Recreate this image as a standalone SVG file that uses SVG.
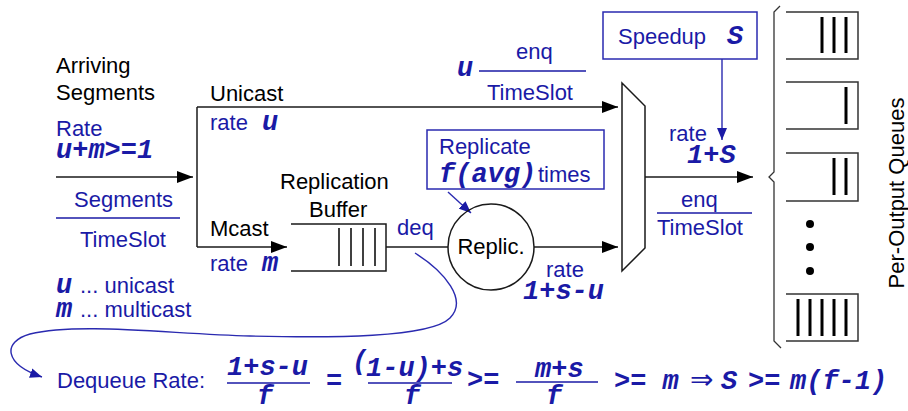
<svg xmlns="http://www.w3.org/2000/svg" width="908" height="411" viewBox="0 0 908 411">
  <style>
    .sans { font-family: "Liberation Sans", Arial, sans-serif; font-size: 22px; }
    .blk { fill: #000; }
    .blu { fill: #1a1aa6; }
    .mono { font-family: "Liberation Mono", "Courier New", monospace; font-size: 27px; font-weight: bold; font-style: italic; fill: #1a1aa6; }
    .ln { stroke: #1a1a1a; stroke-width: 1.5; fill: none; }
    .bln { stroke: #2a2ab0; stroke-width: 1.4; fill: none; }
    .box { stroke: #2a2ab0; stroke-width: 1.5; fill: #fff; }
    .q { stroke: #333; stroke-width: 1.5; fill: none; }
    .bar { stroke: #000; stroke-width: 3; }
    .frac { stroke: #1a1aa6; stroke-width: 1.3; }
  </style>
  <defs>
    <marker id="ah" markerUnits="userSpaceOnUse" markerWidth="16" markerHeight="12" refX="16" refY="6" orient="auto">
      <path d="M0,0 L16,6 L0,12 Z" fill="#000"/>
    </marker>
    <marker id="bh" markerUnits="userSpaceOnUse" markerWidth="12" markerHeight="10" refX="12" refY="5" orient="auto">
      <path d="M0,0 L12,5 L0,10 Z" fill="#1a1aa6"/>
    </marker>
  </defs>

  <rect width="908" height="411" fill="#fff"/>

  <!-- connectors -->
  <g id="connectors">
    <line class="ln" x1="56" y1="177" x2="193" y2="177" marker-end="url(#ah)"/>
    <path class="ln" d="M197,107 V247"/>
    <line class="ln" x1="197" y1="107" x2="618" y2="107" marker-end="url(#ah)"/>
    <line class="ln" x1="197" y1="247" x2="287" y2="247" marker-end="url(#ah)"/>
    <line class="ln" x1="386" y1="247" x2="448" y2="247"/>
    <line class="ln" x1="534" y1="247" x2="618" y2="247" marker-end="url(#ah)"/>
    <line class="ln" x1="645" y1="177" x2="753" y2="177" marker-end="url(#ah)"/>
    <line class="bln" x1="722" y1="59" x2="722" y2="140" marker-end="url(#bh)"/>
    <line class="bln" x1="448" y1="192" x2="471" y2="213" marker-end="url(#bh)"/>
    <path class="bln" d="M415,253 C445,272 468,300 450,318 C430,338 330,338 250,336 C170,334 80,322 30,334 C2,342 4,364 42,377" marker-end="url(#bh)"/>
  </g>

  <!-- input labels -->
  <g id="arrivals">
    <text class="sans blk" x="56" y="73">Arriving</text>
    <text class="sans blk" x="56" y="100">Segments</text>
    <text class="sans blu" x="56" y="136">Rate</text>
    <text class="mono" x="56" y="158">u+m&gt;=1</text>
    <text class="sans blu" x="74" y="207">Segments</text>
    <line class="frac" x1="56" y1="218" x2="180" y2="218"/>
    <text class="sans blu" x="80" y="247">TimeSlot</text>
    <text class="mono" x="56" y="293">u</text>
    <text class="sans blu" x="80" y="293">... unicast</text>
    <text class="mono" x="56" y="317">m</text>
    <text class="sans blu" x="80" y="317">... multicast</text>
  </g>

  <g id="unicast">
    <text class="sans blk" x="210" y="101">Unicast</text>
    <text class="sans blu" x="210" y="130">rate</text>
    <text class="mono" x="262" y="130">u</text>
    <text class="mono" x="457" y="76">u</text>
    <text class="sans blu" x="516" y="59">enq</text>
    <line class="frac" x1="479" y1="71" x2="586" y2="71"/>
    <text class="sans blu" x="487" y="100">TimeSlot</text>
  </g>

  <g id="mcast">
    <text class="sans blk" x="210" y="236">Mcast</text>
    <text class="sans blu" x="210" y="271">rate</text>
    <text class="mono" x="262" y="271">m</text>
  </g>

  <!-- replication buffer -->
  <g id="buffer">
    <text class="sans blk" x="280" y="189">Replication</text>
    <text class="sans blk" x="309" y="217">Buffer</text>
    <path class="ln" d="M291,224 H386 V271 H291"/>
    <line x1="339" y1="228" x2="339" y2="266" stroke="#000" stroke-width="1.5"/>
    <line x1="351" y1="228" x2="351" y2="266" stroke="#000" stroke-width="1.5"/>
    <line x1="363" y1="228" x2="363" y2="266" stroke="#000" stroke-width="1.5"/>
    <line x1="375" y1="228" x2="375" y2="266" stroke="#000" stroke-width="1.5"/>
    <text class="sans blu" x="397" y="235">deq</text>
  </g>

  <g id="replicate-note">
    <rect class="box" x="427" y="130" width="177" height="59"/>
    <text class="sans blu" x="439" y="154">Replicate</text>
    <text class="mono" x="439" y="182">f(avg)</text>
    <text class="sans blu" x="538" y="182">times</text>
  </g>

  <g id="replicator">
    <circle class="ln" cx="491" cy="247" r="43" fill="#fff"/>
    <text class="sans blk" x="491" y="254" text-anchor="middle">Replic.</text>
    <text class="sans blu" x="546" y="277">rate</text>
    <text class="mono" x="523" y="299">1+s-u</text>
  </g>

  <g id="mux">
    <polygon class="ln" points="622,83 645,106 645,248 622,271" fill="#fff"/>
    <text class="sans blu" x="669" y="141">rate</text>
    <text class="mono" x="687" y="163">1+S</text>
    <text class="sans blu" x="681" y="207">enq</text>
    <line class="frac" x1="657" y1="213" x2="752" y2="213"/>
    <text class="sans blu" x="657" y="235">TimeSlot</text>
  </g>

  <g id="speedup">
    <rect class="box" x="603" y="12" width="154" height="47"/>
    <text class="sans blu" x="618" y="44">Speedup</text>
    <text class="mono" x="727" y="44">S</text>
  </g>

  <!-- per-output queues -->
  <g id="queues">
    <path d="M780,6 L774,12 V172 L769,177 L774,182 V341 L781,348" stroke="#333" stroke-width="1.3" fill="none"/>
    <path class="q" d="M786,12 H858 V59 H786"/>
    <line class="bar" x1="822" y1="17" x2="822" y2="53"/>
    <line class="bar" x1="834" y1="17" x2="834" y2="53"/>
    <line class="bar" x1="846" y1="17" x2="846" y2="53"/>
    <path class="q" d="M786,82 H858 V129 H786"/>
    <line class="bar" x1="846" y1="87" x2="846" y2="124"/>
    <path class="q" d="M786,153 H858 V201 H786"/>
    <line class="bar" x1="834" y1="158" x2="834" y2="195"/>
    <line class="bar" x1="846" y1="158" x2="846" y2="195"/>
    <circle cx="810" cy="224" r="4" fill="#000"/>
    <circle cx="810" cy="247" r="4" fill="#000"/>
    <circle cx="810" cy="271" r="4" fill="#000"/>
    <path class="q" d="M786,294 H858 V341 H786"/>
    <line class="bar" x1="798" y1="299" x2="798" y2="336"/>
    <line class="bar" x1="810" y1="299" x2="810" y2="336"/>
    <line class="bar" x1="822" y1="299" x2="822" y2="336"/>
    <line class="bar" x1="834" y1="299" x2="834" y2="336"/>
    <line class="bar" x1="846" y1="299" x2="846" y2="336"/>
    <text class="sans blk" x="0" y="0" text-anchor="middle" transform="translate(904,193) rotate(-90)">Per-Output Queues</text>
  </g>

  <!-- dequeue rate relation -->
  <g id="formula">
    <text class="sans blu" x="57" y="388">Dequeue Rate:</text>
    <text class="mono" x="227" y="375">1+s-u</text>
    <line class="frac" x1="227" y1="383" x2="310" y2="383"/>
    <text class="mono" x="265" y="404" text-anchor="middle">f</text>
    <text class="mono" x="326" y="389">=</text>
    <text class="mono" x="352" y="369">(</text>
    <text class="mono" x="366" y="376">1-u)+s</text>
    <line class="frac" x1="368" y1="383" x2="452" y2="383"/>
    <text class="mono" x="412" y="404" text-anchor="middle">f</text>
    <text class="mono" x="467" y="388">&gt;=</text>
    <text class="mono" x="535" y="377">m+s</text>
    <line class="frac" x1="516" y1="382" x2="598" y2="382"/>
    <text class="mono" x="554" y="404" text-anchor="middle">f</text>
    <text class="mono" x="614" y="389">&gt;= m</text>
    <text x="690" y="389" style="font-family:'DejaVu Sans',sans-serif;font-size:28px;fill:#1a1aa6">⇒</text>
    <text class="mono" x="721" y="389">S</text>
    <text class="mono" x="748" y="389">&gt;=</text>
    <text class="mono" x="790" y="389">m(f-1)</text>
  </g>
</svg>
